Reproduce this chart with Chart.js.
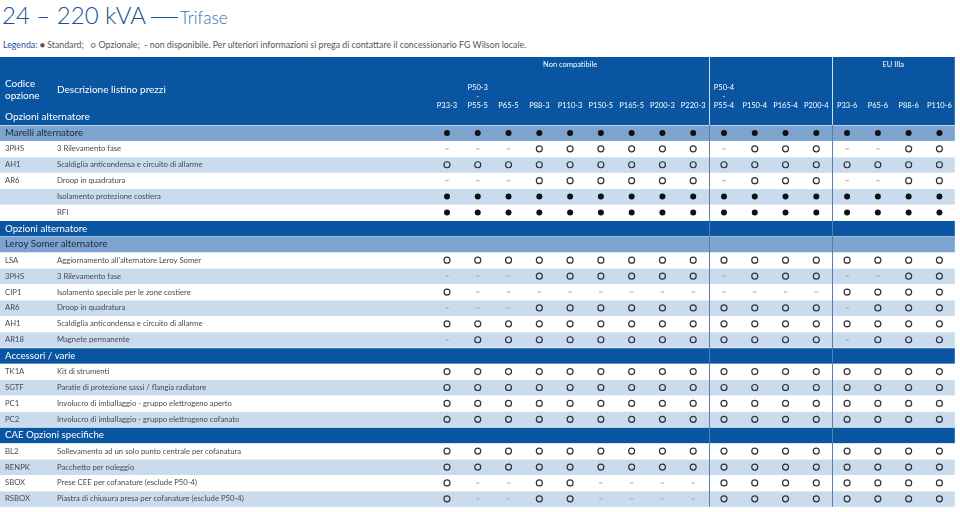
<!DOCTYPE html>
<html>
<head>
<meta charset="utf-8">
<script src="https://cdn.jsdelivr.net/npm/chart.js@4"></script>
<style>
  body { margin: 0; background: #fff; font-family: Lato, "Noto Sans", sans-serif; }
  .wrap { position: relative; width: 960px; height: 512px; overflow: hidden; }
  .title { position: absolute; left: 2px; top: 0px; color: #1a5293; font-size: 24px; font-weight: 300; white-space: nowrap; }
  .title .dash { display: inline-block; width: 27px; height: 1.5px; background: #1a5293; vertical-align: 6px; margin: 0 2px 0 5px; }
  .title .sub { font-size: 17px; color: #2f6fb5; font-weight: 300; }
  .legend { position: absolute; left: 3px; top: 39px; font-size: 8.8px; color: #555; white-space: nowrap; }
  .legend b { font-weight: normal; color: #1a5293; }
  canvas { position: absolute; left: 0; top: 57px; }
</style>
</head>
<body>
<div class="wrap">
  <div class="title">24 – 220 kVA<span class="dash"></span><span class="sub">Trifase</span></div>
  <div class="legend"><b>Legenda:</b> ● Standard; &nbsp; ○ Opzionale; &nbsp;- non disponibile. Per ulteriori informazioni si prega di contattare il concessionario FG Wilson locale.</div>
  <canvas id="table" width="960" height="455"></canvas>
</div>
<script>
// colonne (modelli)
const columnLabels = [
  ["P33-3"], ["P50-3", "-", "P55-5"], ["P65-5"], ["P88-3"], ["P110-3"], ["P150-5"],
  ["P165-5"], ["P200-3"], ["P220-3"], ["P50-4", "-", "P55-4"], ["P150-4"], ["P165-4"],
  ["P200-4"], ["P33-6"], ["P65-6"], ["P88-6"], ["P110-6"]
];
const groupTitles = ["Non compatibile", "", "EU IIIa"];
const groupStart = [0, 9, 13];
const groupEnd = [8, 12, 16];

// righe: tipo, codice, descrizione, valori (S = standard, O = opzionale, - = non disponibile)
const rowTypes = [
  "section", "item", "item", "item", "item", "item",
  "group", "section", "item", "item", "item", "item", "item", "item",
  "group", "item", "item", "item", "item",
  "group", "item", "item", "item", "item"
];
const rowCodes = [
  "", "3PHS", "AH1", "AR6", "", "",
  "", "", "LSA", "3PHS", "CIP1", "AR6", "AH1", "AR18",
  "", "TK1A", "SGTF", "PC1", "PC2",
  "", "BL2", "RENPK", "SBOX", "RSBOX"
];
const rowLabels = [
  "Marelli alternatore", "3 Rilevamento fase", "Scaldiglia anticondensa e circuito di allarme",
  "Droop in quadratura", "Isolamento protezione costiera", "RFI",
  "Opzioni alternatore", "Leroy Somer alternatore", "Aggiornamento all'alternatore Leroy Somer",
  "3 Rilevamento fase", "Isolamento speciale per le zone costiere", "Droop in quadratura",
  "Scaldiglia anticondensa e circuito di allarme", "Magnete permanente",
  "Accessori / varie", "Kit di strumenti", "Paratie di protezione sassi / flangia radiatore",
  "Involucro di imballaggio - gruppo elettrogeno aperto", "Involucro di imballaggio - gruppo elettrogeno cofanato",
  "CAE Opzioni specifiche", "Sollevamento ad un solo punto centrale per cofanatura",
  "Pacchetto per noleggio", "Prese CEE per cofanature (esclude P50-4)",
  "Piastra di chiusura presa per cofanature (esclude P50-4)"
];
const rowValues = [
  "SSSSSSSSSSSSSSSSS",
  "---OOOOOO-OOO--OO",
  "OOOOOOOOOOOOOOOOO",
  "---OOOOOO-OOO--OO",
  "SSSSSSSSSSSSSSSSS",
  "SSSSSSSSSSSSSSSSS",
  "",
  "",
  "OOOOOOOOOOOOOOOOO",
  "---OOOOOO-OOO--OO",
  "O------------OOOO",
  "---OOOOOOOOOO-OOO",
  "OOOOOOOOOOOOOOOOO",
  "-OOOOOOOOOOOO-OOO",
  "",
  "OOOOOOOOOOOOOOOOO",
  "OOOOOOOOOOOOOOOOO",
  "OOOOOOOOOOOOOOOOO",
  "OOOOOOOOOOOOOOOOO",
  "",
  "OOOOOOOOOOOOOOOOO",
  "OOOOOOOOOOOOOOOOO",
  "O--OO----OOOOOOOO",
  "O--OO----OOOOOOOO"
];

const DARK = "#0a55a1";
const MID = "#7ca4cf";
const LIGHT = "#c9dbec";
const FONT = "Lato, 'Noto Sans', sans-serif";

function points(symbol) {
  const out = [];
  rowValues.forEach((vals, r) => {
    for (let c = 0; c < vals.length; c++) {
      if (vals[c] === symbol) out.push({ x: c, y: r });
    }
  });
  return out;
}

const tablePlugin = {
  id: "tablePlugin",
  beforeDatasetsDraw(chart) {
    const ctx = chart.ctx;
    const xs = chart.scales.x;
    const ys = chart.scales.y;
    const right = chart.chartArea.right;
    const top = chart.chartArea.top;
    const bottom = chart.chartArea.bottom;
    ctx.save();

    // intestazione
    ctx.fillStyle = DARK;
    ctx.fillRect(0, 0, right, top);
    ctx.fillStyle = "#fff";
    ctx.textBaseline = "middle";
    ctx.font = "10px " + FONT;
    ctx.fillText("Codice", 5, 27);
    ctx.fillText("opzione", 5, 39);
    ctx.fillText("Descrizione listino prezzi", 57, 33);
    ctx.fillText("Opzioni alternatore", 5, 60);

    ctx.textAlign = "center";
    ctx.font = "7.5px " + FONT;
    groupTitles.forEach((t, i) => {
      if (!t) return;
      const cx = (xs.getPixelForValue(groupStart[i] - 0.5) + xs.getPixelForValue(groupEnd[i] + 0.5)) / 2;
      ctx.fillText(t, cx, 8);
    });
    columnLabels.forEach((lines, c) => {
      const px = xs.getPixelForValue(c);
      lines.forEach((l, k) => {
        ctx.fillText(l, px, 49 - (lines.length - 1 - k) * 9);
      });
    });

    // righe
    let alt = 0;
    rowTypes.forEach((type, r) => {
      const y0 = ys.getPixelForValue(r - 0.5);
      const y1 = ys.getPixelForValue(r + 0.5);
      const yc = ys.getPixelForValue(r);
      let fill = null;
      if (type === "group") { fill = DARK; alt = 0; }
      else if (type === "section") { fill = MID; alt = 0; }
      else { if (alt % 2 === 1) fill = LIGHT; alt++; }
      if (fill) {
        ctx.fillStyle = fill;
        ctx.fillRect(0, y1, right, y0 - y1 + 0.5);
      }
      ctx.textAlign = "left";
      if (type === "item") {
        ctx.fillStyle = "#4a4a4a";
        ctx.font = "7.7px " + FONT;
        ctx.fillText(rowCodes[r], 5, yc);
        ctx.fillText(rowLabels[r], 57, yc);
      } else {
        ctx.fillStyle = type === "group" ? "#fff" : "#1b2a40";
        ctx.font = "9.7px " + FONT;
        ctx.fillText(rowLabels[r], 5, yc);
      }
    });

    // separatori verticali
    ctx.lineWidth = 1;
    [groupEnd[0] + 0.5, groupEnd[1] + 0.5].forEach(v => {
      const px = Math.round(xs.getPixelForValue(v)) + 0.5;
      ctx.strokeStyle = "rgba(255,255,255,0.8)";
      ctx.beginPath(); ctx.moveTo(px, 0); ctx.lineTo(px, top); ctx.stroke();
      ctx.strokeStyle = "#5b7fab";
      ctx.beginPath(); ctx.moveTo(px, top); ctx.lineTo(px, bottom); ctx.stroke();
    });
    ctx.restore();
  }
};

new Chart(document.getElementById("table"), {
  type: "scatter",
  data: {
    datasets: [
      {
        label: "Standard",
        data: points("S"),
        pointStyle: "circle",
        pointRadius: 3,
        backgroundColor: "#111",
        borderColor: "#111",
        borderWidth: 0
      },
      {
        label: "Opzionale",
        data: points("O"),
        pointStyle: "circle",
        pointRadius: 3,
        backgroundColor: "rgba(0,0,0,0)",
        borderColor: "#333",
        borderWidth: 1.2
      },
      {
        label: "non disponibile",
        data: points("-"),
        pointStyle: "line",
        pointRadius: 1.8,
        borderColor: "#aaa",
        borderWidth: 1
      }
    ]
  },
  options: {
    responsive: false,
    animation: false,
    layout: { padding: { left: 431.6, right: 4.4, top: 68, bottom: 1 } },
    plugins: { legend: { display: false }, tooltip: { enabled: false } },
    scales: {
      x: { type: "linear", min: -0.5, max: 16.5, display: false },
      y: { type: "linear", min: -0.5, max: 23.5, reverse: true, display: false }
    }
  },
  plugins: [tablePlugin]
});
</script>
</body>
</html>
